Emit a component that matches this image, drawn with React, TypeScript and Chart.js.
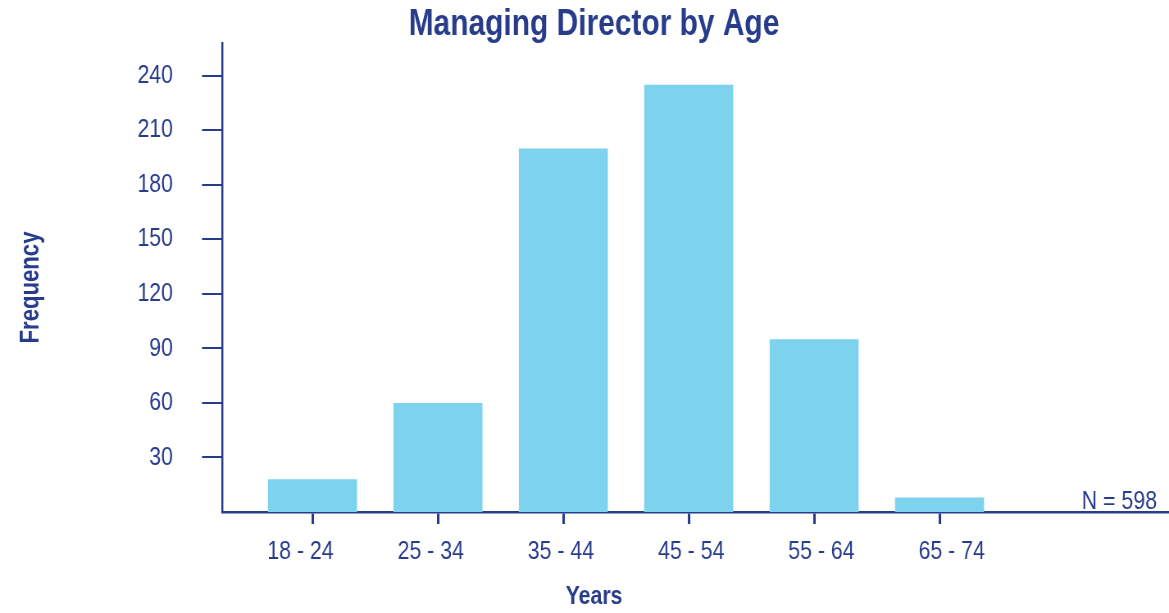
import { useEffect, useRef } from "react";
import { Chart, registerables } from "chart.js";

Chart.register(...registerables);

const categories = ["18 - 24", "25 - 34", "35 - 44", "45 - 54", "55 - 64", "65 - 74"];
const frequencies = [18, 60, 200, 235, 95, 8];
const yTickValues = [30, 60, 90, 120, 150, 180, 210, 240];
const chartTitle = "Managing Director by Age";
const yTitle = "Frequency";
const xTitle = "Years";
const noteText = "N = 598";

const NAVY = "#283C8C";
const BAR = "#7DD3ED";
const FONT = '"Liberation Sans", Arial, sans-serif';

// The canvas is drawn wider and shown at 1169px, so the Liberation Sans text
// appears as a narrow (Arial Narrow like) face.
const VIEW_W = 1169;
const VIEW_H = 613;
const CANVAS_W = 1426;
const S = VIEW_W / CANVAS_W; // horizontal display factor
const px = (v: number) => v / S; // display px -> canvas px (horizontal)

export default function App() {
  const ref = useRef<HTMLCanvasElement | null>(null);

  useEffect(() => {
    document.body.style.margin = "0";
    const canvas = ref.current;
    if (!canvas) return;
    const positions = categories.map((_, i) => i + 1);

    const textPlugin = {
      id: "extraText",
      afterDraw(chart: any) {
        const { ctx, chartArea } = chart;
        ctx.save();
        ctx.fillStyle = NAVY;
        ctx.font = `26px ${FONT}`;
        ctx.textAlign = "right";
        ctx.textBaseline = "alphabetic";
        ctx.fillText(noteText, chartArea.right - px(12), chartArea.bottom - 3);
        ctx.restore();

        // Rotated y axis title, kept narrow along its baseline
        ctx.save();
        ctx.fillStyle = NAVY;
        const yScale = chart.scales.y;
        const cx = yScale.left + px(12.2);
        const cy = (chartArea.top + chartArea.bottom) / 2 + 10;
        ctx.translate(cx, cy);
        ctx.scale(1 / S, 1);
        ctx.rotate(-Math.PI / 2);
        ctx.scale(0.82, 1);
        ctx.font = `bold 27px ${FONT}`;
        ctx.textAlign = "center";
        ctx.textBaseline = "middle";
        ctx.fillText(yTitle, 0, 0);
        ctx.restore();
      },
    };

    const chart = new Chart(canvas, {
      type: "bar",
      data: {
        datasets: [
          {
            data: positions.map((x, i) => ({ x, y: frequencies[i] })),
            backgroundColor: BAR,
            borderWidth: 0,
            barPercentage: 0.71,
            categoryPercentage: 1,
            xAxisID: "x",
            yAxisID: "y",
          },
        ],
      },
      options: {
        responsive: false,
        animation: false,
        devicePixelRatio: 1,
        layout: { padding: { left: px(19), right: 0, top: 0, bottom: 0 } },
        plugins: {
          legend: { display: false },
          tooltip: { enabled: false },
          title: {
            display: true,
            text: chartTitle,
            color: NAVY,
            font: { family: FONT, size: 36.5, weight: "bold", lineHeight: 1 },
            padding: { top: 6.5, bottom: 0 },
          },
          subtitle: {
            display: true,
            position: "bottom",
            text: xTitle,
            color: NAVY,
            font: { family: FONT, size: 26, weight: "bold", lineHeight: 1 },
            padding: { top: 4, bottom: 3 },
          },
        },
        scales: {
          x: {
            type: "linear",
            position: "bottom",
            weight: 0,
            offset: false,
            min: 0.278,
            max: 7.83,
            border: { display: true, color: NAVY, width: 2.5 },
            grid: {
              display: true,
              offset: false,
              drawOnChartArea: false,
              drawTicks: true,
              tickLength: 12,
              color: NAVY,
              lineWidth: px(2.5),
            },
            ticks: { display: false },
            afterBuildTicks: (axis: any) => {
              axis.ticks = positions.map((v) => ({ value: v }));
            },
            afterFit: (axis: any) => {
              axis.height = 12;
              axis.paddingLeft = 0;
              axis.paddingRight = 0;
            },
          },
          x2: {
            type: "linear",
            position: "bottom",
            weight: 1,
            offset: false,
            min: 0.3973,
            max: 7.6685,
            border: { display: false },
            grid: { display: false, offset: false, drawTicks: false, tickLength: 0 },
            ticks: {
              color: NAVY,
              font: { family: FONT, size: 26 },
              padding: 12,
              maxRotation: 0,
              autoSkip: false,
              callback: (v: any) => categories[Math.round(Number(v)) - 1] ?? "",
            },
            afterBuildTicks: (axis: any) => {
              axis.ticks = positions.map((v) => ({ value: v }));
            },
            afterFit: (axis: any) => {
              axis.height = 56;
              axis.paddingLeft = 0;
              axis.paddingRight = 0;
            },
          },
          y: {
            type: "linear",
            position: "left",
            min: 0,
            max: 258,
            border: { display: true, color: NAVY, width: px(2) },
            grid: {
              display: true,
              drawOnChartArea: false,
              drawTicks: true,
              tickLength: px(20),
              color: NAVY,
              lineWidth: 2,
            },
            ticks: { color: NAVY, font: { family: FONT, size: 26 }, padding: px(29) },
            afterBuildTicks: (axis: any) => {
              axis.ticks = yTickValues.map((v) => ({ value: v }));
            },
            afterFit: (axis: any) => {
              axis.width = px(203);
              axis.paddingTop = 0;
              axis.paddingBottom = 0;
            },
            title: { display: false },
          },
        },
      } as any,
      plugins: [textPlugin],
    });

    return () => chart.destroy();
  }, []);

  return (
    <div style={{ width: VIEW_W, height: VIEW_H }}>
      <canvas
        ref={ref}
        width={CANVAS_W}
        height={VIEW_H}
        style={{ width: `${VIEW_W}px`, height: `${VIEW_H}px`, display: "block" }}
      />
    </div>
  );
}
